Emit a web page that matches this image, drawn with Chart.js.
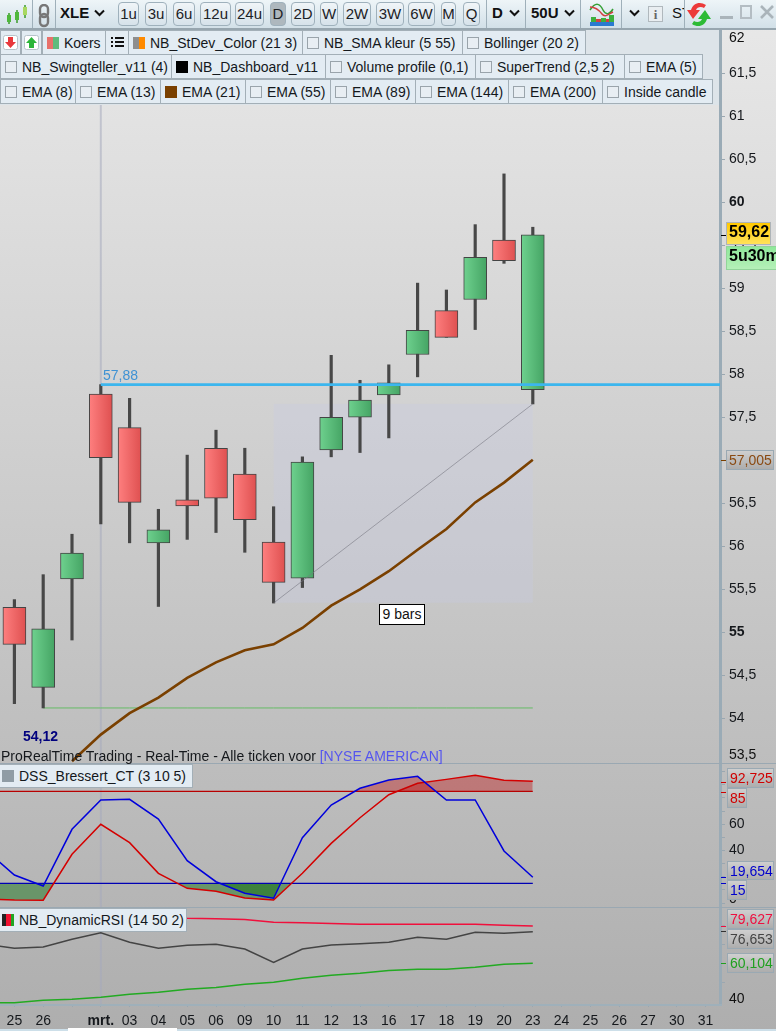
<!DOCTYPE html>
<html><head><meta charset="utf-8">
<script src="https://cdn.jsdelivr.net/npm/chart.js@4"></script>
<style>
html,body{margin:0;padding:0;width:776px;height:1031px;overflow:hidden;background:linear-gradient(#e9e9e9,#aeaeae);font-family:"Liberation Sans",Arial,sans-serif;color:#111}
canvas{position:absolute;left:0;pointer-events:none}
.a{position:absolute;white-space:nowrap;box-sizing:border-box}
.tb{background:#e3ecf3;border:1px solid #a3afb7;display:flex;align-items:center;font-size:14px;letter-spacing:0;color:#14181c;padding-left:4px}
.sw{display:inline-block;width:12px;height:12px;margin-right:5px;flex:none;box-sizing:border-box}
.cb{border:1px solid #9aa4ab;background:#e8eef3}
.btn{border:1.5px solid #9fb1bc;border-radius:4px;background:linear-gradient(#f0f5f8,#d6e2ea);text-align:center;font-size:15px;line-height:21px;top:2px;height:24px;color:#1c2226}
.box{border:1px solid #9aa9b3;background:linear-gradient(#cfcfcf,#adadad);font-size:14px;padding-left:2px;line-height:18px;overflow:hidden}
.lab{font-size:14px}
.tk{height:1px;width:5px;left:721px}
</style></head><body>
<canvas id="cMain" width="776" height="763" style="top:0"></canvas>
<canvas id="cDss" width="776" height="143" style="top:764px"></canvas>
<canvas id="cRsi" width="776" height="123" style="top:908px"></canvas>
<div id="ui"></div>
<script>
const dateLabels=['24','25','26','','mrt.','03','04','05','06','09','10','11','12','13','16','17','18','19','20','23','24','25','26','27','30','31'];
const opens =[null,55.29,54.36,55.62,57.77,57.38,56.04,56.54,57.14,56.84,56.05,55.63,57.12,57.50,57.76,58.23,58.74,58.87,59.56,57.82];
const highs =[null,55.38,55.67,56.14,57.88,57.72,56.43,57.06,57.35,57.14,56.46,57.04,58.22,57.93,58.11,59.06,58.98,59.74,60.33,59.71];
const lows  =[null,54.17,54.12,54.91,56.26,56.04,55.30,56.08,56.16,55.93,55.34,55.52,57.04,57.09,57.26,57.97,58.43,58.52,59.29,57.655];
const closes=[null,54.86,55.04,55.92,57.03,56.51,56.19,56.47,56.56,56.31,55.58,56.98,57.50,57.70,57.90,58.51,58.43,59.36,59.32,59.62];
const ema21 =[null,null,null,53.50,53.81,54.06,54.24,54.47,54.65,54.79,54.86,55.05,55.31,55.50,55.71,55.96,56.20,56.51,56.74,57.005];
const dssBlue=[40.3,21.3,12.95,56.1,78.4,78.9,63.9,32.2,16.2,7.4,3.6,49.7,74.6,87.3,93.6,96.4,78.4,78.4,39.6,19.654];
const dssRed =[3.2,2.3,2.1,37.1,59.9,45.9,22.6,11.2,8.9,3.8,2.3,22.6,45.4,64.9,82.4,91.1,94.1,97.2,93.4,92.725];
const dssUpper=[85,85,85,85,85,85,85,85,85,85,85,85,85,85,85,85,85,85,85,85];
const dssLower=[15,15,15,15,15,15,15,15,15,15,15,15,15,15,15,15,15,15,15,15];
const rsiRed  =[84.6,84.6,84.6,84.6,84.5,84.4,84.3,83.7,83.45,83.1,81.6,81.4,81.0,80.5,80.5,80.5,80.5,80.5,80.0,79.627];
const rsiBlack=[70.2,67.95,68.6,72.7,76.1,71.1,67.95,69.5,70.05,67.6,60.6,67.6,69.7,70.4,71.1,73.7,72.7,76.3,75.8,76.653];
const rsiGreen=[39.3,39.5,40.7,41.25,42.3,43.9,44.9,46.5,47.5,49.1,50.15,52.25,53.8,54.9,56.4,56.95,56.95,58.0,59.6,60.104];
const resistance=57.88, support=54.12, zoneTop=57.655, zoneBottom=55.344;

Chart.defaults.font.family='"Liberation Sans",Arial,sans-serif';
Chart.defaults.font.size=14;
Chart.defaults.color='#15181c';
const FIRST=1, ZONE_A=10, ZONE_B=19, MARK=4;
const lineDs=(data,color,w,extra)=>Object.assign({type:'line',data,borderColor:color,borderWidth:w,pointRadius:0,tension:0,fill:false,spanGaps:false},extra||{});
const xScale=(show)=>({type:'category',labels:dateLabels,min:FIRST,offset:true,display:show,
  grid:{drawOnChartArea:false,color:'#9aa7b0',tickLength:3,offset:false},
  border:{display:false},
  ticks:{autoSkip:false,maxRotation:0,padding:6,color:'#15181c',font:c=>({size:14,weight:c.tick&&c.tick.label==='mrt.'?'bold':'normal'})},
  afterFit(s){s.height=show?27:0;s.paddingLeft=0;s.paddingRight=0;}});
const yScale=(min,max,step,cb,tickColor,fontFn)=>({position:'right',min,max,
  afterFit(s){s.width=56;s.paddingTop=0;s.paddingBottom=0;},
  grid:{drawOnChartArea:false,tickLength:5,color:tickColor||'#9aa7b0'},
  border:{display:true,color:'#9aabb6',width:3},
  ticks:{stepSize:step,includeBounds:false,padding:4,autoSkip:false,callback:cb,color:'#15181c',font:fontFn||{size:14}}});
const crossLine={id:'crossLine',beforeDatasetsDraw(ch){const {ctx,chartArea:a,scales:{x}}=ch;const px=x.getPixelForValue(MARK);ctx.save();ctx.strokeStyle='rgba(165,170,190,.55)';ctx.lineWidth=2;ctx.beginPath();ctx.moveTo(px,a.top);ctx.lineTo(px,a.bottom);ctx.stroke();ctx.restore();}};
const zone={id:'zone',beforeDatasetsDraw(ch){const {ctx,chartArea:a,scales:{x,y}}=ch;
  const l=x.getPixelForValue(ZONE_A),r=x.getPixelForValue(ZONE_B),t=y.getPixelForValue(zoneTop),b=y.getPixelForValue(zoneBottom);
  ctx.save();ctx.fillStyle='rgba(200,203,228,.3)';ctx.fillRect(l,t,r-l,b-t);ctx.restore();},
  afterDatasetsDraw(ch){const {ctx,chartArea:a,scales:{x,y}}=ch;const py=y.getPixelForValue(resistance);
  ctx.save();ctx.strokeStyle='#3cb6ee';ctx.lineWidth=2.6;ctx.beginPath();ctx.moveTo(x.getPixelForValue(MARK),py);ctx.lineTo(a.right,py);ctx.stroke();ctx.restore();}};
const candleFill=(c)=>{const i=c.dataIndex,x=c.chart.scales.x;if(!x||opens[i]==null)return 'transparent';const px=x.getPixelForValue(i);
  const g=c.chart.ctx.createLinearGradient(px-12,0,px+12,0);
  if(closes[i]>=opens[i]){g.addColorStop(0,'#6fd28f');g.addColorStop(1,'#44a363');}else{g.addColorStop(0,'#ff8080');g.addColorStop(1,'#de4f4f');}
  return g;};
const wicks=lows.map((l,i)=>l==null?null:[l,highs[i]]);
const bodies=opens.map((o,i)=>o==null?null:[Math.min(o,closes[i]),Math.max(o,closes[i])]);
const flat=(v,from,to)=>dateLabels.map((_,i)=>i>=from&&i<=to?v:null);
const diag=dateLabels.map((_,i)=>i===ZONE_A?lows[ZONE_A]:i===ZONE_B?lows[ZONE_B]:null);

new Chart(document.getElementById('cMain'),{type:'bar',plugins:[crossLine,zone],
 data:{labels:dateLabels,datasets:[
  lineDs(flat(support,2,ZONE_B),'#66bb66',1,{order:5}),
  {type:'bar',data:wicks,backgroundColor:'#474747',barThickness:2.5,grouped:false,order:4},
  lineDs(diag,'rgba(120,120,130,.6)',1,{spanGaps:true,order:2}),
  {type:'bar',data:bodies,backgroundColor:candleFill,borderColor:'#444',borderWidth:1,borderSkipped:false,barThickness:23,grouped:false,order:3},
  lineDs(ema21,'#7a4000',2.6,{order:1})
 ]},
 options:{responsive:false,animation:false,layout:{padding:0},plugins:{legend:{display:false},tooltip:{enabled:false}},
  scales:{x:xScale(false),
   y:yScale(53.48,62.352,.5,v=>{const k=String(v).replace('.',',');return (k==='62'||k==='53,5')?'':k;},
      c=>(c.tick.value===62||c.tick.value===53.5)?'transparent':'#9aa7b0',
      c=>({size:14,weight:(c.tick&&(c.tick.value===60||c.tick.value===55))?'bold':'normal'}))}}});

const hot='rgba(190,0,0,.36)',cool='rgba(0,105,0,.42)',none='rgba(0,0,0,0)';
new Chart(document.getElementById('cDss'),{type:'line',plugins:[crossLine],
 data:{labels:dateLabels,datasets:[
  lineDs(dssLower,'#0000b4',1.2,{order:4}),
  lineDs(dssUpper,'#b80000',1.2,{order:4}),
  lineDs(dssBlue,'rgba(0,0,0,0)',0,{order:5,fill:{target:{value:15},above:none,below:cool}}),
  lineDs(dssRed,'rgba(0,0,0,0)',0,{order:5,fill:{target:{value:15},above:none,below:cool}}),
  lineDs(dssRed,'#d40000',1.5,{order:2,fill:{target:{value:85},above:hot,below:none}}),
  lineDs(dssBlue,'#0000dc',1.5,{order:1,fill:{target:{value:85},above:hot,below:none}})
 ]},
 options:{responsive:false,animation:false,layout:{padding:0},plugins:{legend:{display:false},tooltip:{enabled:false}},
  scales:{x:xScale(false),y:yScale(-3.04,105.8,10,v=>(v%20===0&&v>0&&v<100)?String(v):'')}}});

new Chart(document.getElementById('cRsi'),{type:'line',plugins:[crossLine],
 data:{labels:dateLabels,datasets:[
  lineDs(rsiRed,'#f0103c',1.5),lineDs(rsiBlack,'#444',1.5),lineDs(rsiGreen,'#22aa22',1.5)
 ]},
 options:{responsive:false,animation:false,layout:{padding:0},plugins:{legend:{display:false},tooltip:{enabled:false}},
  scales:{x:xScale(true),y:yScale(38.8,89.06,10,v=>v===60||v===80?String(v):'',c=>c.tick.value===40?'transparent':'#9aa7b0')}}});

/* ---------- interface chrome ---------- */
const ui=document.getElementById('ui');
const add=(cls,css,html)=>{const d=document.createElement('div');d.className='a '+cls;d.style.cssText=css;d.innerHTML=html||'';ui.appendChild(d);return d;};
const rect=(x,y,w,h,bg,extra)=>add('',`left:${x}px;top:${y}px;width:${w}px;height:${h}px;background:${bg};${extra||''}`);
rect(0,763,776,1,'#9aa8b2');rect(0,907,776,1,'#9aa8b2');rect(0,1004,722,2,'#9fb0ba');
rect(0,1029,776,2,'#cddfe9');rect(68,1028,109,3,'#fff');
rect(0,0,776,28,'linear-gradient(#eef5f8,#d2e0e8)');rect(0,28,776,2,'#97a6af');rect(0,30,720,75,'#dde4e9');
[32,55,486,525,580,621,684].forEach(x=>rect(x,0,1,28,'#9fb0ba'));
const btns=[['1u',118,21],['3u',145,22],['6u',173,22],['12u',200,31],['24u',235,29],['D',270,16],['2D',291,24],['W',320,18],['2W',343,28],['3W',376,28],['6W',408,27],['M',441,15],['Q',463,17]];
btns.forEach(b=>add('btn',`left:${b[1]}px;width:${b[2]}px;${b[0]==='D'?'background:#aeb8be;':''}`,b[0]));
add('','left:60px;top:4px;font-size:15px;font-weight:bold','XLE');
add('','left:492px;top:4px;font-size:15px;font-weight:bold','D');
add('','left:531px;top:4px;font-size:15px;font-weight:bold','50U');
add('','left:672px;top:4px;width:12px;overflow:hidden;font-size:15px','ST');
const chev=x=>add('',`left:${x}px;top:9px;line-height:0`,'<svg width="11" height="8"><path d="M1 1.5 5.5 6 10 1.5" fill="none" stroke="#111" stroke-width="2"/></svg>');
[94,509,564,629].forEach(chev);
add('','left:5px;top:3px','<svg width="22" height="22"><g stroke="#3a9a2a" stroke-width="1.5"><path d="M4 10v11M12 7v13M20 2v13"/></g><rect x="2" y="12" width="4" height="7" fill="#4fb83c"/><rect x="10" y="9" width="4" height="8" fill="#4fb83c"/><rect x="18" y="4" width="4" height="8" fill="#a8d860"/></svg>');
add('','left:38px;top:4px','<svg width="12" height="24"><g fill="none" stroke="#777" stroke-width="2.4"><rect x="2" y="1" width="8" height="12" rx="4"/><rect x="2" y="10" width="8" height="12" rx="4"/></g></svg>');
add('','left:589px;top:1px','<svg width="26" height="26"><rect x="1" y="21" width="24" height="4" fill="#2a7ad0"/><g fill="#3db03d"><rect x="2" y="16" width="5" height="5"/><rect x="12" y="17" width="5" height="4"/><rect x="20" y="14" width="5" height="7"/></g><g fill="#d64040"><rect x="7" y="18" width="5" height="3"/><rect x="17" y="18" width="3" height="3"/></g><path d="M1 9C7 0 11 3 14 9s7 4 10-1" fill="none" stroke="#35a035" stroke-width="1.5"/><path d="M1 6c6 0 9 3 12 7s7 0 11-2" fill="none" stroke="#d04040" stroke-width="1.5"/></svg>');
add('','left:648px;top:6px;width:15px;height:16px;border:1px solid #b0b8bd;background:#e9eef1;text-align:center;font:bold 13px "Liberation Serif";color:#666;line-height:15px','i');
add('','left:686px;top:2px','<svg width="26" height="25"><path d="M20 3C14-1 7 1 5 8H1l6 9 7-9H10c1-3 5-4 8-2z" fill="#ec3a3a"/><path d="M6 22c6 4 13 2 15-5h4l-6-9-7 9h4c-1 3-5 4-8 2z" fill="#2dbb35"/></svg>');
rect(720,16,13,3,'#aab4ba');rect(740,5,12,14,'none','border:2px solid #b4bdc3');
add('','left:760px;top:5px','<svg width="14" height="14"><path d="M1 1 13 13M13 1 1 13" stroke="#aab4ba" stroke-width="2.6"/></svg>');
const sw={cb:'<span class="sw cb"></span>',
 koers:'<span class="sw" style="background:linear-gradient(90deg,#e8716b 50%,#5fbb7c 50%)"></span>',
 stdev:'<span class="sw" style="background:linear-gradient(90deg,#8e8e8e 50%,#ff8a00 50%)"></span>',
 black:'<span class="sw" style="background:#000"></span>',brown:'<span class="sw" style="background:#7a4000"></span>'};
const rows=[
 [30,[[42,105,'koers','Koers'],[128,302,'stdev','NB_StDev_Color (21 3)'],[302,462,'cb','NB_SMA kleur (5 55)'],[462,585,'cb','Bollinger (20 2)']]],
 [54,[[0,171,'cb','NB_Swingteller_v11 (4)'],[171,325,'black','NB_Dashboard_v11'],[325,475,'cb','Volume profile (0,1)'],[475,624,'cb','SuperTrend (2,5 2)'],[624,702,'cb','EMA (5)']]],
 [79,[[0,75,'cb','EMA (8)'],[75,160,'cb','EMA (13)'],[160,245,'brown','EMA (21)'],[245,330,'cb','EMA (55)'],[330,415,'cb','EMA (89)'],[415,508,'cb','EMA (144)'],[508,602,'cb','EMA (200)'],[602,712,'cb','Inside candle']]]];
rows.forEach(r=>r[1].forEach(i=>add('tb',`left:${i[0]}px;top:${r[0]}px;width:${i[1]-i[0]+1}px;height:25px`,sw[i[2]]+i[3])));
rect(719,30,3,75,'#9aabb6');
add('tb','left:0;top:30px;width:21px;height:25px;padding:0;justify-content:center','<svg width="15" height="15"><rect x=".5" y=".5" width="14" height="14" rx="2" fill="#fff" stroke="#b7c3ca"/><path d="M5 2h5v5h3l-5.500 6L2 7h3z" fill="#e8383c"/></svg>');
add('tb','left:21px;top:30px;width:21px;height:25px;padding:0;justify-content:center','<svg width="15" height="15"><rect x=".5" y=".5" width="14" height="14" rx="2" fill="#fff" stroke="#b7c3ca"/><path d="M5 13h5V8h3L7.500 2 2 8h3z" fill="#2cb53a"/></svg>');
add('tb','left:105px;top:30px;width:24px;height:25px;padding:0;justify-content:center','<svg width="13" height="11"><g fill="#111"><rect y="0" width="2" height="2"/><rect y="4" width="2" height="2"/><rect y="8" width="2" height="2"/><rect x="4" y="0" width="9" height="2"/><rect x="4" y="4" width="9" height="2"/><rect x="4" y="8" width="9" height="2"/></g></svg>');
add('tb','left:-1px;top:764px;width:194px;height:24px;padding-left:2px;',`<span class="sw" style="background:#8f9ca5"></span>DSS_Bressert_CT (3 10 5)`);
add('tb','left:-1px;top:908px;width:188px;height:24px;padding-left:2px',`<span class="sw" style="background:linear-gradient(90deg,#222 33%,#f01030 33% 75%,#22a522 75%)"></span>NB_DynamicRSI (14 50 2)`);
add('lab','left:103px;top:367px;color:#3f92d4','57,88');
add('','left:23px;top:728px;font-size:14px;font-weight:bold;color:#00007e','54,12');
add('lab','left:1px;top:748px;color:#15181c','ProRealTime Trading - Real-Time - Alle ticken voor <span style="color:#5555ee">[NYSE AMERICAN]</span>');
add('lab','left:379px;top:604px;width:46px;height:21px;background:#fff;border:1px solid #000;text-align:center;line-height:19px','9 bars');
add('lab','left:729px;top:29px','62');add('lab','left:729px;top:746px','53,5');add('lab','left:729px;top:990px','40');add('lab','left:729px;top:890px','0');
const tags=[['59,62',726,222,45,23,'#000','linear-gradient(#ffc800,#ffe25a)',1,'#aeb4b8'],['5u30m',726,246,54,24,'#000','linear-gradient(#8fe89a,#b5f0b8)',1,'#92d49a'],
 ['57,005',726,450,48,20,'#8a4a12'],['92,725',727,768,47,20,'#d00000'],['85',727,788,20,20,'#d00000'],['19,654',727,861,47,19,'#0000cc'],['15',727,880,20,20,'#0000cc'],
 ['79,627',727,909,47,20,'#ee1040'],['76,653',727,929,47,20,'#444'],['60,104',727,953,47,20,'#20a020']];
tags.forEach(t=>{add('box',`left:${t[1]}px;top:${t[2]}px;width:${t[3]}px;height:${t[4]}px;color:${t[5]};`+(t[6]?`background:${t[6]};`:'')+(t[7]?`font-weight:bold;font-size:16px;`:'')+(t[8]?`border-color:${t[8]};`:''),t[0]);});
[[235,'#000'],[460,'#7a4000'],[782,'#d00000'],[792,'#d00000'],[877,'#0000cc'],[883,'#0000cc'],[926,'#ee1040'],[931,'#333'],[963,'#20a020']].forEach(k=>add('tk',`top:${k[0]}px;background:${k[1]}`));
</script>
</body></html>
